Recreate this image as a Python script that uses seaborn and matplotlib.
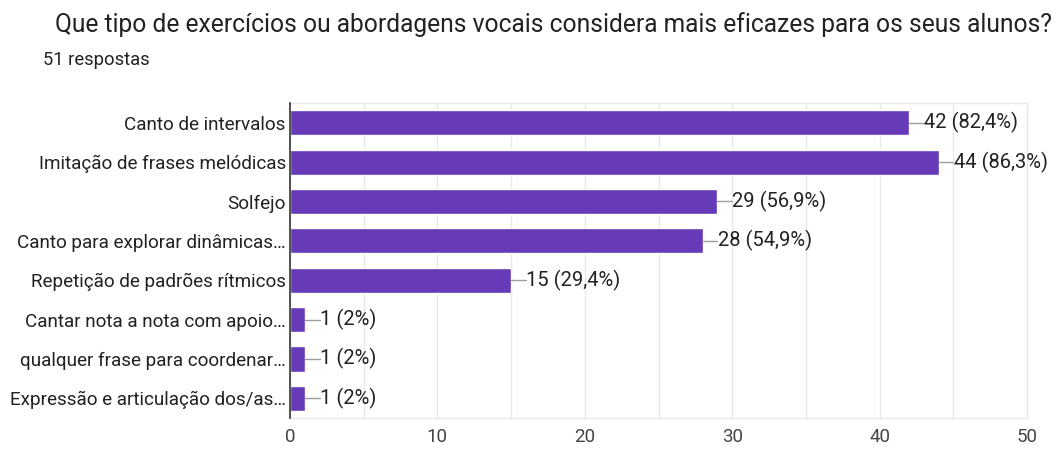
import matplotlib
matplotlib.use("Agg")
import matplotlib.pyplot as plt
import seaborn as sns
import pandas as pd

categories = [
    "Canto de intervalos",
    "Imitação de frases melódicas",
    "Solfejo",
    "Canto para explorar dinâmicas…",
    "Repetição de padrões rítmicos",
    "Cantar nota a nota com apoio…",
    "qualquer frase para coordenar…",
    "Expressão e articulação dos/as…",
]
counts = [42, 44, 29, 28, 15, 1, 1, 1]
percent_labels = ["82,4%", "86,3%", "56,9%", "54,9%", "29,4%", "2%", "2%", "2%"]
title = "Que tipo de exercícios ou abordagens vocais considera mais eficazes para os seus alunos?"
subtitle = "51 respostas"

sns.set_theme(style="white")
plt.rcParams["font.family"] = ["Roboto", "DejaVu Sans"]

df = pd.DataFrame({"cat": categories, "n": counts})

fig = plt.figure(figsize=(10.57, 4.5), dpi=100)
ax = fig.add_axes([0.2744, 0.0711, 0.9716 - 0.2744, 0.771 - 0.0711])

sns.barplot(data=df, y="cat", x="n", orient="h", color="#673ab7",
            saturation=1, width=0.64, ax=ax, zorder=3)

ax.set_xlim(0, 50)
ax.set_ylim(len(categories) - 0.5, -0.5)
ax.set_xticks(range(0, 51, 10))
ax.set_xticks(range(5, 50, 10), minor=True)
ax.grid(True, axis="x", which="both", color="#e8e8e8", linewidth=1, zorder=0)
ax.set_xlabel("")
ax.set_ylabel("")
ax.tick_params(axis="x", labelsize=13.5, colors="#444444", length=0, pad=7)
ax.tick_params(axis="y", labelsize=13.6, colors="#222222", length=0, pad=3)
for lbl in ax.get_xticklabels():
    lbl.set_color("#444444")

for s in ["top", "bottom", "right"]:
    ax.spines[s].set_color("#e8e8e8")
    ax.spines[s].set_linewidth(1)
ax.spines["left"].set_color("#333333")
ax.spines["left"].set_linewidth(1.2)
ax.spines["left"].set_zorder(5)

for i, (n, p) in enumerate(zip(counts, percent_labels)):
    ax.plot([n, n + 1.0], [i, i], color="#9e9e9e", linewidth=1, zorder=4, clip_on=False)
    ax.text(n + 1.02, i, f"{n} ({p})", va="center", ha="left", fontsize=14.5,
            color="#222222", zorder=4, clip_on=False)

fig.text(0.052, 0.945, title, fontsize=17.7, color="#222222", va="center", ha="left")
fig.text(0.041, 0.866, subtitle, fontsize=13.2, color="#222222", va="center", ha="left")

fig.savefig("out.png", dpi=100)
